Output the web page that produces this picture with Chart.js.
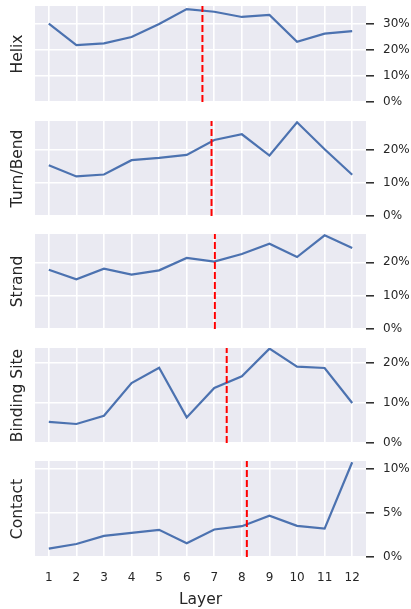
<!DOCTYPE html>
<html>
<head>
<meta charset="utf-8">
<script src="https://cdn.jsdelivr.net/npm/chart.js@4/dist/chart.umd.min.js"></script>
<style>
  html, body { margin: 0; padding: 0; background: #fff; }
  body { width: 411px; height: 609px; position: relative; overflow: hidden; }
  canvas.panel { position: absolute; left: 0; }
</style>
</head>
<body>
<script>
//Dados
const layers = [1, 2, 3, 4, 5, 6, 7, 8, 9, 10, 11, 12]
const helix = [30.0, 21.8, 22.5, 24.9, 29.9, 35.6, 34.6, 32.6, 33.4, 23.1, 26.2, 27.2]
const turnBend = [15.3, 11.9, 12.5, 16.8, 17.5, 18.4, 22.9, 24.6, 18.2, 28.2, 20.1, 12.4]
const strand = [17.8, 14.9, 18.1, 16.3, 17.6, 21.3, 20.2, 22.5, 25.6, 21.6, 28.1, 24.3]
const bindingSite = [5.3, 4.75, 6.8, 15.0, 18.8, 6.4, 13.75, 16.7, 23.6, 19.1, 18.75, 10.0]
const contact = [0.95, 1.48, 2.4, 2.74, 3.08, 1.56, 3.12, 3.5, 4.68, 3.54, 3.23, 10.76]

const panelNames = ['Helix', 'Turn/Bend', 'Strand', 'Binding Site', 'Contact']
const panelSeries = [helix, turnBend, strand, bindingSite, contact]
const cutLayer = [6.57, 6.9, 7.02, 7.45, 8.18]
const yMax = [36.8, 28.6, 28.5, 23.75, 10.9]
const yStep = [10, 10, 10, 10, 5]

//Layout
const plotTops = [6, 121, 234, 348, 461]
const plotBottoms = [102, 216, 329, 443, 557]
const FIG_H = 609
const PAD = 10
const textColor = '#262626'
const family = 'DejaVu Sans'

//Fundo cinza do grafico
const bgPlugin = {
    id: 'bg',
    beforeDraw(chart) {
        const { ctx, chartArea: a } = chart
        ctx.save()
        ctx.fillStyle = '#EAEAF2'
        ctx.fillRect(a.left, a.top, a.right - a.left, a.bottom - a.top)
        ctx.restore()
    }
}

panelNames.forEach((name, i) => {
    const last = i === panelNames.length - 1
    const top = plotTops[i] - PAD
    const height = last ? FIG_H - top : (plotBottoms[i] - plotTops[i]) + 2 * PAD

    const canvas = document.createElement('canvas')
    canvas.className = 'panel'
    canvas.width = 411
    canvas.height = height
    canvas.style.top = top + 'px'
    document.body.appendChild(canvas)

    new Chart(canvas, {
        type: 'line',
        data: {
            datasets: [{
                data: [{ x: cutLayer[i], y: 0 }, { x: cutLayer[i], y: yMax[i] }],
                borderColor: '#FF0000',
                borderWidth: 2,
                borderDash: [7, 3],
                pointRadius: 0,
                xAxisID: 'x',
                yAxisID: 'y',
                order: 0
            }, {
                data: layers.map((l, k) => ({ x: l, y: panelSeries[i][k] })),
                borderColor: '#4C72B0',
                borderWidth: 2.2,
                pointRadius: 0,
                tension: 0,
                xAxisID: 'x',
                yAxisID: 'y',
                order: 1
            }]
        },
        options: {
            responsive: false,
            animation: false,
            events: [],
            layout: { padding: { top: PAD, bottom: last ? 0 : PAD, left: 0, right: 0 } },
            plugins: {
                legend: { display: false },
                tooltip: { enabled: false }
            },
            scales: {
                x: {
                    type: 'linear',
                    min: 0.5,
                    max: 12.5,
                    afterBuildTicks: s => { s.ticks = layers.map(v => ({ value: v })) },
                    afterFit: s => {
                        if (last) s.height = FIG_H - plotBottoms[i]
                        s.paddingLeft = 0
                        s.paddingRight = 0
                    },
                    grid: { color: '#ffffff', lineWidth: 1.6, drawTicks: false },
                    border: { display: false },
                    ticks: {
                        display: last,
                        padding: 14,
                        color: textColor,
                        font: { family: family, size: 12 }
                    },
                    title: {
                        display: last,
                        text: 'Layer',
                        color: textColor,
                        padding: { top: 0, bottom: 0 },
                        font: { family: family, size: 15.5 }
                    }
                },
                y: {
                    type: 'linear',
                    position: 'right',
                    min: 0,
                    max: yMax[i],
                    afterFit: s => {
                        s.width = 45
                        s.paddingTop = 0
                        s.paddingBottom = 0
                    },
                    grid: {
                        color: '#ffffff',
                        lineWidth: 1.6,
                        tickColor: textColor,
                        tickLength: 8,
                        tickWidth: 1.5
                    },
                    border: { display: false },
                    ticks: {
                        stepSize: yStep[i],
                        includeBounds: false,
                        padding: 9,
                        color: textColor,
                        font: { family: family, size: 12 },
                        callback: v => v + '%'
                    }
                },
                yTitle: {
                    type: 'linear',
                    position: 'left',
                    afterFit: s => {
                        s.width = 35
                        s.paddingTop = 0
                        s.paddingBottom = 0
                    },
                    grid: { display: false },
                    border: { display: false },
                    ticks: { display: false },
                    title: {
                        display: true,
                        text: name,
                        color: textColor,
                        padding: { top: 9, bottom: 0 },
                        font: { family: family, size: 15.5 }
                    }
                }
            }
        },
        plugins: [bgPlugin]
    })
})
</script>
</body>
</html>
